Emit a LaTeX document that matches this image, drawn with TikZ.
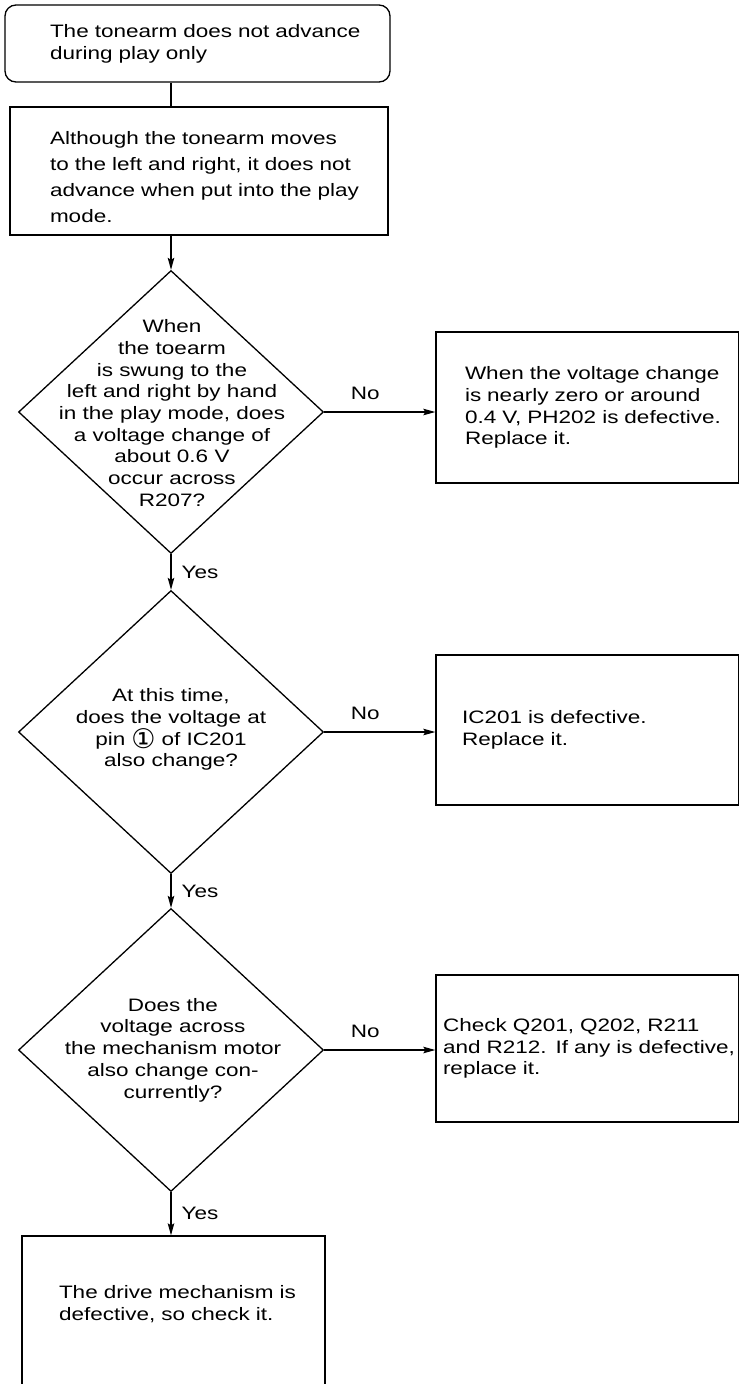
\documentclass[tikz,border=0pt]{standalone}
\usepackage{fontspec}
\setmainfont{Liberation Sans}[FakeStretch=1.25]
\newfontfamily\symfont{DejaVu Sans}
\usetikzlibrary{shapes.geometric,arrows.meta}
\newcommand\oneline[1]{\mbox{#1}}
\newcommand\pinone{\raisebox{-3pt}{\symfont\fontsize{27}{27}\selectfont ①}}
\begin{document}
\begin{tikzpicture}[x=1pt,y=-1pt,
  txt/.style={font=\fontsize{18}{21.7}\selectfont},
  box/.style={draw,line width=1.3pt,rectangle,inner ysep=0pt,align=left,txt},
  dia/.style={draw,line width=1.3pt,diamond,inner sep=0pt,minimum width=305pt,minimum height=283pt},
  qtext/.style={align=center,txt,inner sep=0pt},
  conn/.style={line width=1.3pt},
  arr/.style={line width=1.3pt,-{Stealth[length=12pt,width=6.5pt,inset=2pt]}},
  lbl/.style={txt,inner sep=0pt}]
\useasboundingbox (0,0) rectangle (739,1384);

% boxes
\node[box,rounded corners=11pt,inner xsep=45pt,text width=295pt,minimum height=77pt] (start) at (197.5,43.5)
  {\oneline{The tonearm does not advance}\\\oneline{during play only}};
\node[box,inner xsep=40pt,text width=298pt,minimum height=128pt,font=\fontsize{18}{26}\selectfont] (sym) at (199,171)
  {\rule{0pt}{25pt}\makebox[323pt][s]{Although the tonearm moves}\\
   \makebox[323pt][s]{to the left and right, it does not}\\
   \makebox[323pt][s]{advance when put into the play}\\
   \oneline{mode.}};
\node[box,inner xsep=29pt,text width=244.5pt,minimum height=151pt] (ph) at (587.25,407.5)
  {\oneline{When the voltage change}\\\oneline{is nearly zero or around}\\\oneline{0.4 V, PH202 is defective.}\\\oneline{Replace it.}};
\node[box,inner xsep=26pt,text width=250.5pt,minimum height=150pt] (ic) at (587.25,730)
  {\oneline{IC201 is defective.}\\\oneline{Replace it.}};
\node[box,inner xsep=7pt,text width=288.5pt,minimum height=147pt] (qr) at (587.25,1048.5)
  {\oneline{Check Q201, Q202, R211}\\\oneline{and R212. If any is defective,}\\\oneline{replace it.}};
\node[box,inner xsep=37pt,text width=229pt,minimum height=156pt] (drive) at (173.5,1314)
  {\oneline{The drive mechanism is}\\\oneline{defective, so check it.}\\\mbox{}};

% decisions
\node[dia] (d1) at (171,412) {};
\node[dia] (d2) at (171,732) {};
\node[dia] (d3) at (171,1050) {};
\node[qtext] (t1) at (172,413)
  {When\\the toearm\\is swung to the\\left and right by hand\\in the play mode, does\\a voltage change of\\about 0.6 V\\occur across\\R207?};
\node[qtext] (t2) at (171,729.5)
  {At this time,\\does the voltage at\\pin\hspace{6pt}\pinone\hspace{6pt}of IC201\\also change?};
\node[qtext] (t3) at (173,1050)
  {Does the\\voltage across\\the mechanism motor\\also change con-\\currently?};

% connectors
\draw[conn] (start.south -| d1.north) -- (sym.north -| d1.north);
\draw[arr] (sym.south -| d1.north) -- (d1.north);
\draw[arr] (d1.east) -- node[lbl,above=11.5pt,pos=0.37] (no1) {No} (ph.west |- d1.east);
\draw[arr] (d1.south) -- node[lbl,right=10pt] (yes1) {Yes} (d2.north);
\draw[arr] (d2.east) -- node[lbl,above=11.5pt,pos=0.37] (no2) {No} (ic.west |- d2.east);
\draw[arr] (d2.south) -- node[lbl,right=10pt] (yes2) {Yes} (d3.north);
\draw[arr] (d3.east) -- node[lbl,above=11.5pt,pos=0.37] (no3) {No} (qr.west |- d3.east);
\draw[arr] (d3.south) -- node[lbl,right=10pt] (yes3) {Yes} (drive.north -| d3.south);
\end{tikzpicture}
\end{document}
